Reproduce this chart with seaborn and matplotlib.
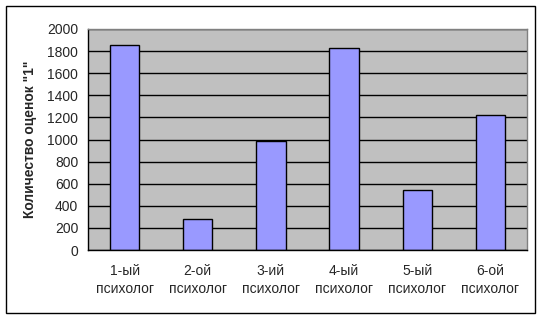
import matplotlib
matplotlib.use("Agg")
import matplotlib.pyplot as plt
import seaborn as sns
import pandas as pd
from matplotlib.patches import Rectangle

categories = ["1-ый\nпсихолог", "2-ой\nпсихолог", "3-ий\nпсихолог",
              "4-ый\nпсихолог", "5-ый\nпсихолог", "6-ой\nпсихолог"]
values = [1852, 278, 984, 1825, 540, 1225]
y_ticks = [0, 200, 400, 600, 800, 1000, 1200, 1400, 1600, 1800, 2000]
y_label = "Количество оценок \"1\""

df = pd.DataFrame({"cat": categories, "val": values})

sns.set_style("white")
plt.rcParams["font.family"] = ["Liberation Sans", "DejaVu Sans"]

fig = plt.figure(figsize=(5.43, 3.2), dpi=100)
ax = fig.add_axes([88/543, 1-250/320, (527-88)/543, (250-29)/320])
ax.set_facecolor("#C0C0C0")

sns.barplot(data=df, x="cat", y="val", ax=ax, color="#9999FF",
            edgecolor="black", linewidth=1.0, width=0.4, saturation=1)

ax.set_ylim(0, 2000)
ax.set_xlim(-0.5, len(categories)-0.5)
ax.set_yticks(y_ticks)
ax.set_yticklabels([str(t) for t in y_ticks], fontsize=10)
ax.yaxis.grid(True, color="black", linewidth=1.0)
ax.set_axisbelow(True)

ax.set_xticks([i + 0.5 for i in range(-1, len(categories))])
ax.set_xticklabels([])
ax.set_xticks(range(len(categories)), minor=True)
ax.set_xticklabels(categories, minor=True, fontsize=10, linespacing=1.35)
ax.tick_params(axis="x", which="minor", length=0, pad=10)
ax.tick_params(axis="x", which="major", length=4, width=1, color="black", direction="out")
ax.tick_params(axis="y", length=4, width=1, color="black", direction="out", pad=3)

ax.set_xlabel("")
ax.set_ylabel(y_label, fontsize=10, fontweight="bold", labelpad=7)

for side in ["left", "bottom"]:
    ax.spines[side].set_color("black")
    ax.spines[side].set_linewidth(1.0)
for side in ["top", "right"]:
    ax.spines[side].set_color("#808080")
    ax.spines[side].set_linewidth(1.0)

fig.patches.append(Rectangle((6/543, 1-313/320), (535-6)/543, (313-6)/320,
                             transform=fig.transFigure, fill=False,
                             edgecolor="black", linewidth=1.0))

fig.savefig("out.png", dpi=100, facecolor="white")
